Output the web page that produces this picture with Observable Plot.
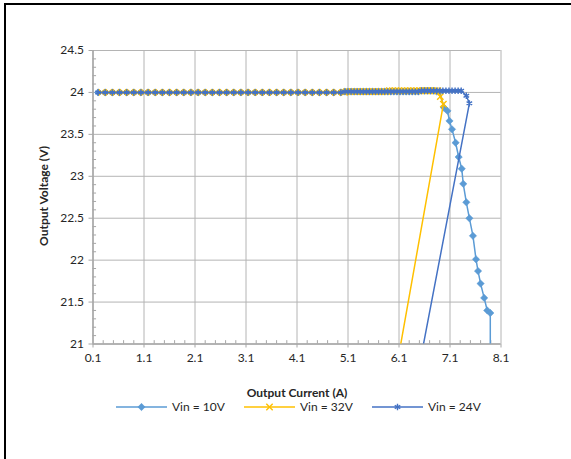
<!DOCTYPE html>
<html>
<head>
<meta charset="utf-8">
<script src="https://cdn.jsdelivr.net/npm/d3@7"></script>
<script src="https://cdn.jsdelivr.net/npm/@observablehq/plot@0.6"></script>
<style>
  html, body { margin: 0; padding: 0; background: #fff; }
  body { width: 571px; height: 459px; position: relative; overflow: hidden; font-family: Lato, "Open Sans", sans-serif; color: #262626; }
  #frame { position: absolute; left: 4px; top: 3px; width: 700px; height: 600px; border-left: 2px solid #000; border-top: 2px solid #000; box-sizing: border-box; }
  #chart { position: absolute; left: 0; top: 0; }
  .ytitle { position: absolute; left: 44px; top: 196px; transform: translate(-50%, -50%) rotate(-90deg); font-weight: bold; font-size: 12px; line-height: 12px; white-space: nowrap; }
  .xtitle { position: absolute; left: 297px; top: 393px; transform: translate(-50%, -50%); font-weight: bold; font-size: 12px; line-height: 12px; white-space: nowrap; }
  #legend { position: absolute; left: 0; top: 398px; }
</style>
</head>
<body>
<div id="frame"></div>
<div id="chart"></div>
<div class="ytitle">Output Voltage (V)</div>
<div class="xtitle">Output Current (A)</div>
<svg id="legend" width="571" height="18"></svg>
<script>
// ---- Data ----
const seriesNames = ["Vin = 10V", "Vin = 32V", "Vin = 24V"];
const seriesColors = ["#5b9bd5", "#ffc000", "#4472c4"];
const seriesSymbols = ["diamond2", "times", "asterisk"];

const xTicks = [0.1, 1.1, 2.1, 3.1, 4.1, 5.1, 6.1, 7.1, 8.1];
const yTicks = [21, 21.5, 22, 22.5, 23, 23.5, 24, 24.5];
const xMinor = [0.3,0.5,0.7,0.9,1.3,1.5,1.7,1.9,2.3,2.5,2.7,2.9,3.3,3.5,3.7,3.9,4.3,4.5,4.7,4.9,5.3,5.5,5.7,5.9,6.3,6.5,6.7,6.9,7.3,7.5,7.7,7.9];
const yMinor = [21.1,21.2,21.3,21.4,21.6,21.7,21.8,21.9,22.1,22.2,22.3,22.4,22.6,22.7,22.8,22.9,23.1,23.2,23.3,23.4,23.6,23.7,23.8,23.9,24.1,24.2,24.3,24.4];

// Vin = 10V
const current10 = [
  0.20,0.34,0.48,0.62,0.76,0.90,1.04,1.18,1.32,1.46,1.60,1.74,1.88,2.02,2.16,2.30,2.44,2.58,2.72,2.86,
  3.00,3.14,3.28,3.42,3.56,3.70,3.84,3.98,4.12,4.26,4.40,4.54,4.68,4.82,4.96,
  5.04,5.10,5.16,5.22,5.28,5.34,5.40,5.46,5.52,5.58,5.64,5.70,5.76,5.82,5.88,5.94,6.00,6.06,6.12,6.18,
  6.24,6.30,6.36,6.42,6.48,6.54,6.60,6.66,6.72,6.78,6.84,6.90,
  6.98,7.05,7.09,7.14,7.21,7.27,7.33,7.36,7.42,7.48,7.55,7.61,7.65,7.70,7.77,7.83,7.89,7.90
];
const voltage10 = [
  24,24,24,24,24,24,24,24,24,24,24,24,24,24,24,24,24,24,24,24,
  24,24,24,24,24,24,24,24,24,24,24,24,24,24,24,
  24.01,24.01,24.01,24.01,24.01,24.01,24.01,24.01,24.01,24.01,24.01,24.01,24.01,24.01,24.01,24.01,24.01,24.01,24.01,24.01,
  24.01,24.01,24.01,24.01,24.01,24.02,24.02,24.02,24.02,24.02,24.01,24.01,
  23.82,23.78,23.66,23.56,23.40,23.23,23.09,22.91,22.69,22.50,22.29,22.01,21.87,21.72,21.55,21.40,21.37,0
];

// Vin = 32V
const current32 = [
  0.27,0.41,0.55,0.69,0.83,0.97,1.11,1.25,1.39,1.53,1.67,1.81,1.95,2.09,2.23,2.37,2.51,2.65,2.79,2.93,
  3.07,3.21,3.35,3.49,3.63,3.77,3.91,4.05,4.19,4.33,4.47,4.61,4.75,4.89,5.03,
  5.07,5.13,5.19,5.25,5.31,5.37,5.43,5.49,5.55,5.61,5.67,5.73,5.79,5.85,
  5.91,5.97,6.03,6.09,6.15,6.21,6.27,6.33,6.39,6.45,6.51,6.57,6.63,6.69,6.75,6.81,
  6.86,6.91,6.97,0
];
const voltage32 = [
  24,24,24,24,24,24,24,24,24,24,24,24,24,24,24,24,24,24,24,24,
  24,24,24,24,24,24,24,24,24,24,24,24,24,24,24,
  24.01,24.01,24.01,24.01,24.01,24.01,24.01,24.01,24.01,24.01,24.01,24.01,24.01,24.01,
  24.02,24.02,24.02,24.02,24.02,24.02,24.02,24.02,24.02,24.02,24.02,24.02,24.02,24.02,24.02,24.02,
  24.02,23.95,23.86,0
];

// Vin = 24V
const current24 = [
  0.20,0.34,0.48,0.62,0.76,0.90,1.04,1.18,1.32,1.46,1.60,1.74,1.88,2.02,2.16,2.30,2.44,2.58,2.72,2.86,
  3.00,3.14,3.28,3.42,3.56,3.70,3.84,3.98,4.12,4.26,4.40,4.54,4.68,4.82,4.96,
  5.04,5.10,5.16,5.22,5.28,5.34,5.40,5.46,5.52,5.58,5.64,5.70,5.76,5.82,5.88,5.94,6.00,6.06,6.12,6.18,
  6.24,6.30,6.36,6.42,6.48,
  6.54,6.60,6.66,6.72,6.78,6.84,6.90,6.96,7.02,7.08,7.14,7.20,7.26,7.32,
  7.42,7.48,0
];
const voltage24 = [
  24,24,24,24,24,24,24,24,24,24,24,24,24,24,24,24,24,24,24,24,
  24,24,24,24,24,24,24,24,24,24,24,24,24,24,24,
  24.01,24.01,24.01,24.01,24.01,24.01,24.01,24.01,24.01,24.01,24.01,24.01,24.01,24.01,24.01,24.01,24.01,24.01,24.01,24.01,
  24.01,24.01,24.01,24.01,24.01,
  24.02,24.02,24.02,24.02,24.02,24.02,24.02,24.02,24.02,24.02,24.02,24.02,24.02,24.02,
  23.96,23.87,0
];

// ---- Build tables ----
const currents = [current10, current32, current24];
const voltages = [voltage10, voltage32, voltage24];
const tables = currents.map((cs, s) => cs.map((c, i) => ({series: seriesNames[s], current: c, voltage: voltages[s][i]})));

const gridColor = "#b4b4b4";
const axisColor = "#a6a6a6";

const seriesMarks = tables.flatMap((rows, s) => [
  Plot.line(rows, {x: "current", y: "voltage", stroke: seriesColors[s], strokeWidth: 1.5, clip: true}),
  Plot.dot(rows, {
    x: "current", y: "voltage", symbol: () => seriesSymbols[s],
    r: s === 0 ? 3.3 : 3,
    fill: s === 0 ? seriesColors[s] : "none",
    stroke: seriesColors[s], strokeWidth: s === 0 ? 0.5 : 1.4, clip: true
  })
]);

const chart = Plot.plot({
  width: 571,
  height: 380,
  marginLeft: 92.5,
  marginRight: 70.5,
  marginTop: 50,
  marginBottom: 36.5,
  x: {domain: [0.1, 8.1]},
  y: {domain: [21, 24.5]},
  symbol: {type: "identity"},
  style: {fontFamily: "Lato, 'Open Sans', sans-serif", fontSize: "12px", background: "transparent", color: "#262626"},
  marks: [
    Plot.gridX(xTicks, {stroke: gridColor, strokeOpacity: 1, strokeWidth: 1}),
    Plot.gridY(yTicks, {stroke: gridColor, strokeOpacity: 1, strokeWidth: 1}),
    Plot.ruleX(xMinor, {y1: 21, y2: 21.04, stroke: axisColor, strokeWidth: 1}),
    Plot.ruleY(yMinor, {x1: 0.1, x2: 0.17, stroke: axisColor, strokeWidth: 1}),
    Plot.axisX({ticks: xTicks, tickSize: 4, tickPadding: 5, tickFormat: d => d.toFixed(1), stroke: axisColor, label: null, fill: "#262626"}),
    Plot.axisY({ticks: yTicks, tickSize: 4, tickPadding: 5, tickFormat: d => `${d}`, stroke: axisColor, label: null, fill: "#262626"}),
    Plot.ruleX([0.1], {stroke: axisColor, strokeWidth: 1.5}),
    Plot.ruleY([21], {stroke: axisColor, strokeWidth: 1.5}),
    ...seriesMarks
  ]
});
document.getElementById("chart").appendChild(chart);

// ---- Legend ----
const legend = d3.select("#legend");
const legendStarts = [116, 244, 372];
seriesNames.forEach((name, s) => {
  const x0 = legendStarts[s];
  const g = legend.append("g");
  g.append("line").attr("x1", x0).attr("x2", x0 + 51).attr("y1", 9).attr("y2", 9)
    .attr("stroke", seriesColors[s]).attr("stroke-width", 1.5);
  const sym = {diamond2: d3.symbolDiamond2, times: d3.symbolTimes, asterisk: d3.symbolAsterisk}[seriesSymbols[s]];
  const rr = s === 0 ? 3.3 : 3;
  g.append("path").attr("d", d3.symbol(sym, Math.PI * rr * rr)())
    .attr("transform", `translate(${x0 + 25.5},9)`)
    .attr("fill", s === 0 ? seriesColors[s] : "none")
    .attr("stroke", seriesColors[s]).attr("stroke-width", s === 0 ? 0.5 : 1.4);
  g.append("text").attr("x", x0 + 56).attr("y", 9).attr("dy", "0.35em")
    .attr("font-family", "Lato, 'Open Sans', sans-serif").attr("font-size", 12).attr("fill", "#262626")
    .text(name);
});
</script>
</body>
</html>
